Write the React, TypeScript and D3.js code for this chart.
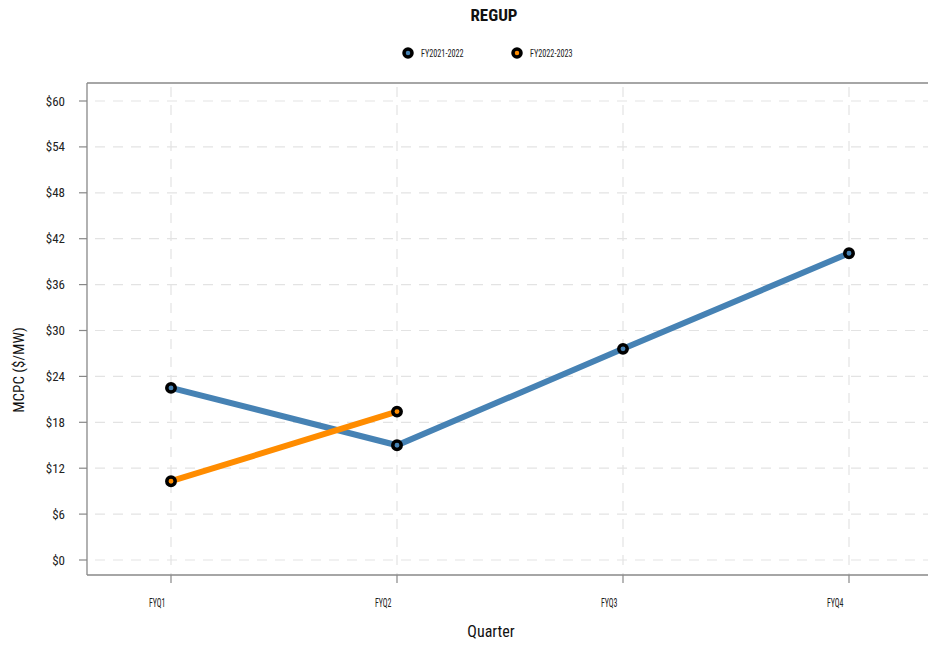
import React from "react";
import * as d3 from "d3";

const quarters = ["FYQ1", "FYQ2", "FYQ3", "FYQ4"];
const series1Name = "FY2021-2022";
const series1Values = [22.5, 15.0, 27.6, 40.1];
const series2Name = "FY2022-2023";
const series2Values = [10.3, 19.4];
const yTicks = [0, 6, 12, 18, 24, 30, 36, 42, 48, 54, 60];

const W = 928;
const H = 646;
const left = 87;
const top = 83;
const bottom = 575;
const FONT = "'Liberation Sans Narrow', 'Arial Narrow', 'Roboto Condensed', Roboto, sans-serif";

export default function App() {
  const x = d3.scalePoint<string>().domain(quarters).range([171, 849]).padding(0);
  const y = d3.scaleLinear().domain([0, 60]).range([560, 101]);
  const line = d3
    .line<number>()
    .x((_, i) => x(quarters[i]) as number)
    .y((d) => y(d));
  const series = [
    { name: series1Name, values: series1Values, color: "#4682B4" },
    { name: series2Name, values: series2Values, color: "#FF8C00" },
  ];
  const legendX = [408, 517];
  return (
    <svg width={W} height={H} style={{ position: "absolute", left: 0, top: 0, fontFamily: FONT }}>
      <rect x={0} y={0} width={W} height={H} fill="#fff" />
      <text x={494} y={21} textAnchor="middle" fontSize={17} fontWeight="bold" fill="#111">
        REGUP
      </text>
      {series.map((s, i) => (
        <g key={s.name}>
          <circle cx={legendX[i]} cy={53} r={4} fill={s.color} stroke="#000" strokeWidth={3.5} />
          <text transform={`translate(${legendX[i] + 13},56.5) scale(0.82,1)`} fontSize={10} fill="#222">
            {s.name}
          </text>
        </g>
      ))}
      {/* grid */}
      {yTicks.map((t) => (
        <line key={"gy" + t} x1={left + 8} x2={W} y1={y(t)} y2={y(t)} stroke="#e3e3e3" strokeWidth={1.2} strokeDasharray="10,8" />
      ))}
      {quarters.map((q) => (
        <line key={"gx" + q} x1={x(q)} x2={x(q)} y1={top + 4} y2={bottom} stroke="#e3e3e3" strokeWidth={1.2} strokeDasharray="10,8" />
      ))}
      {/* axes */}
      <line x1={left} x2={W} y1={top} y2={top} stroke="#888" strokeWidth={1.3} />
      <line x1={left} x2={W} y1={bottom} y2={bottom} stroke="#888" strokeWidth={1.3} />
      <line x1={left} x2={left} y1={top} y2={bottom} stroke="#888" strokeWidth={1.3} />
      {yTicks.map((t) => (
        <g key={"ty" + t}>
          <line x1={left - 8} x2={left} y1={y(t)} y2={y(t)} stroke="#888" strokeWidth={1.2} />
          <text x={65} y={y(t) + 4.5} textAnchor="end" fontSize={13} fill="#222">
            {"$" + t}
          </text>
        </g>
      ))}
      {quarters.map((q) => (
        <g key={"tx" + q}>
          <line x1={x(q)} x2={x(q)} y1={bottom} y2={bottom + 8} stroke="#888" strokeWidth={1.2} />
          <text transform={`translate(${(x(q) as number) - 22},607) scale(0.66,1)`} fontSize={12} fill="#222">
            {q}
          </text>
        </g>
      ))}
      <text x={491} y={637} textAnchor="middle" fontSize={16} fill="#111">
        Quarter
      </text>
      <text transform="translate(24,370) rotate(-90)" textAnchor="middle" fontSize={15} fill="#111">
        MCPC ($/MW)
      </text>
      {series.map((s) => (
        <path key={"l" + s.name} d={line(s.values) || ""} fill="none" stroke={s.color} strokeWidth={6} />
      ))}
      {series.map((s) =>
        s.values.map((v, i) => (
          <circle key={s.name + i} cx={x(quarters[i])} cy={y(v)} r={4.2} fill={s.color} stroke="#000" strokeWidth={3.5} />
        ))
      )}
    </svg>
  );
}
